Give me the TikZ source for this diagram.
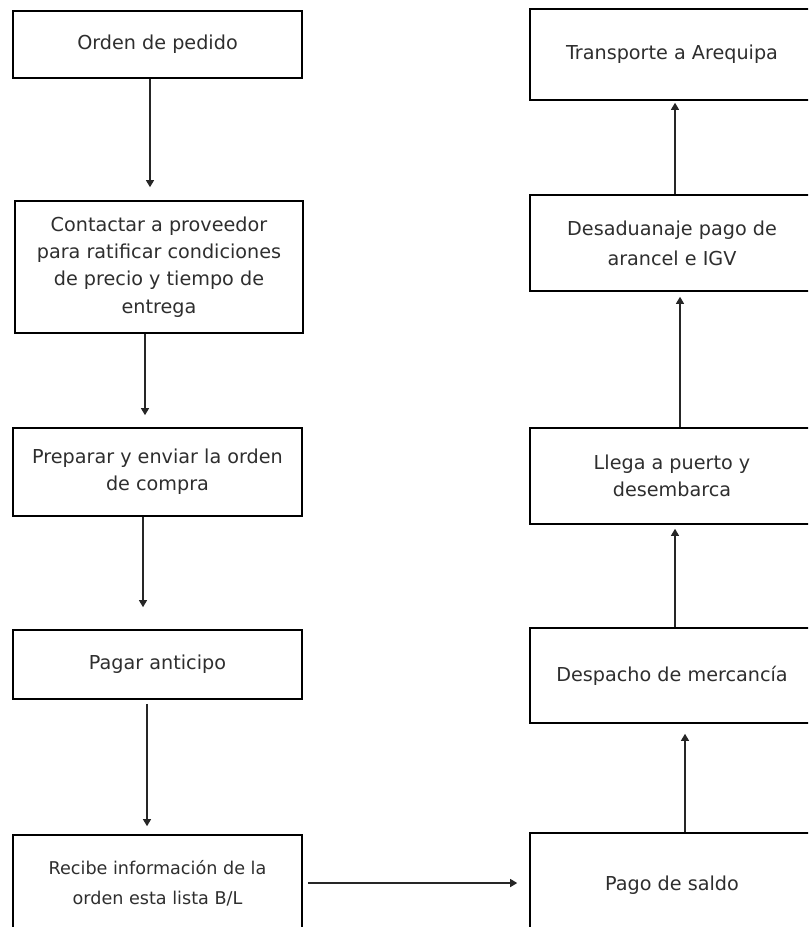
\documentclass[tikz,border=0pt]{standalone}
\usepackage{fontspec}
\setmainfont{DejaVu Sans}
\usetikzlibrary{arrows.meta}
\begin{document}
\begin{tikzpicture}[x=0.75pt,y=-0.75pt,
  box/.style={draw, line width=1.2pt, rectangle, inner sep=0pt, align=center,
    text=black!82, font=\fontsize{14.4pt}{20.5pt}\selectfont},
  small/.style={font=\fontsize{13.2pt}{22.5pt}\selectfont},
  wide/.style={font=\fontsize{14.4pt}{22.5pt}\selectfont},
  arr/.style={line width=0.9pt, draw=black!85, -{Triangle[length=5.25pt,width=6pt]}}]
\useasboundingbox (0,0) rectangle (808,927);
\clip (0,0) rectangle (808,927);
% left column
\node[box, minimum width=216.75pt, minimum height=50.25pt] (A) at (157.5,44.5) {Orden de pedido};
\node[box, minimum width=216pt, minimum height=99pt] (B) at (159,267) {Contactar a proveedor\\para ratificar condiciones\\de precio y tiempo de\\entrega};
\node[box, minimum width=216.75pt, minimum height=66pt] (C) at (157.5,472) {Preparar y enviar la orden\\de compra};
\node[box, minimum width=216.75pt, minimum height=51.75pt] (D) at (157.5,664.5) {Pagar anticipo};
\node[box, small, minimum width=216.75pt, minimum height=72pt] (E) at (157.5,883) {Recibe información de la\\orden esta lista B/L};
% right column
\node[box, minimum width=213pt, minimum height=78pt] (F) at (672,885) {Pago de saldo};
\node[box, minimum width=213pt, minimum height=71.25pt] (G) at (672,675.5) {Despacho de mercancía};
\node[box, minimum width=213pt, minimum height=72pt] (H) at (672,476) {Llega a puerto y\\desembarca};
\node[box, wide, minimum width=213pt, minimum height=72pt] (I) at (672,243) {Desaduanaje pago de\\arancel e IGV};
\node[box, minimum width=213pt, minimum height=68.25pt] (J) at (672,54.5) {Transporte a Arequipa};
% connector columns
\coordinate (c1) at (150,0);
\coordinate (c2) at (145,0);
\coordinate (c3) at (143,0);
\coordinate (c4) at (147,0);
\coordinate (c5) at (685,0);
\coordinate (c6) at (675,0);
\coordinate (c7) at (680,0);
\coordinate (c8) at (675,0);
% connectors
\draw[arr, shorten >=9.75pt] (A.south -| c1) -- (B.north -| c1);
\draw[arr, shorten >=9pt] (B.south -| c2) -- (C.north -| c2);
\draw[arr, shorten >=16.5pt] (C.south -| c3) -- (D.north -| c3);
\draw[arr, shorten <=3pt, shorten >=6pt] (D.south -| c4) -- (E.north -| c4);
\draw[arr, shorten <=3.75pt, shorten >=9pt] (E.east) -- (F.west |- E.east);
\draw[arr, shorten >=7.5pt] (F.north -| c5) -- (G.south -| c5);
\draw[arr, shorten >=3pt] (G.north -| c6) -- (H.south -| c6);
\draw[arr, shorten >=3.75pt] (H.north -| c7) -- (I.south -| c7);
\draw[arr, shorten >=1.5pt] (I.north -| c8) -- (J.south -| c8);
\end{tikzpicture}
\end{document}
